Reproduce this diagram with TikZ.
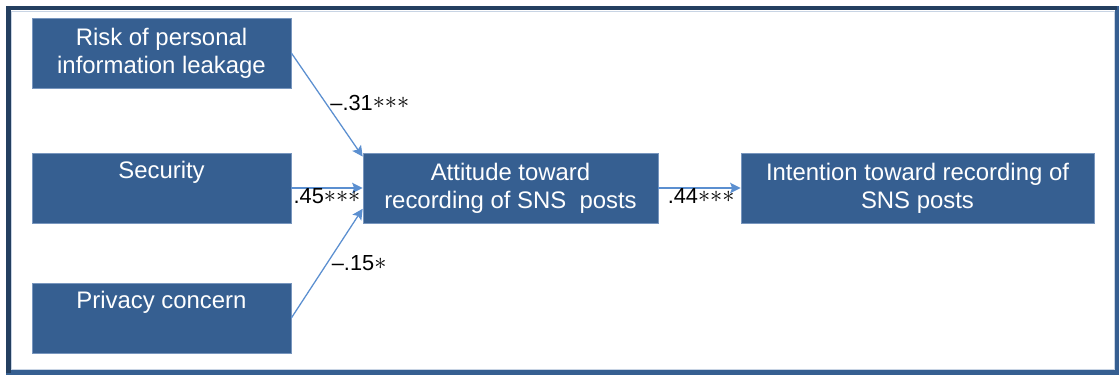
\documentclass[tikz,border=0pt]{standalone}
\usepackage{fontspec}
\setmainfont{Liberation Sans}
\usetikzlibrary{arrows.meta}

\definecolor{boxblue}{RGB}{54,95,145}
\definecolor{boxedge}{RGB}{120,150,190}
\definecolor{linkblue}{RGB}{91,143,208}
\definecolor{framedark}{RGB}{36,63,96}
\definecolor{framelight}{RGB}{200,212,228}

\newcommand{\sigstars}[1]{\raisebox{1pt}{\fontsize{16}{16}\selectfont$#1$}}

\tikzset{
  factor/.style={rectangle, fill=boxblue, draw=boxedge, line width=0.5pt,
    text=white, align=center, inner sep=0pt, minimum height=70*0.025cm,
    font=\fontsize{17}{20}\selectfont},
  link/.style={draw=linkblue, line width=0.9pt,
    -{Stealth[length=7.5pt, width=7.5pt, inset=1.5pt]}},
  coef/.style={inner sep=1pt, font=\fontsize{15.5}{17}\selectfont}
}

\begin{document}
\begin{tikzpicture}[x=0.025cm, y=-0.025cm]
      % page and frame
      \useasboundingbox (0,0) rectangle (1120,375);
      \fill[white] (0,0) rectangle (1120,375);
      \draw[boxblue, line width=3pt] (8.5,8) rectangle (1117,372.5);
      \draw[framedark, line width=3pt] (8.5,372.5) -- (8.5,8) -- (1117,8);
      \draw[framelight, line width=0.6pt] (11.5,11) rectangle (1114,369.5);

      % predictors
      \node[factor, minimum width=259*0.025cm] (risk) at (161.5,53) {Risk of personal\\information leakage};
      \node[factor, minimum width=259*0.025cm] (sec) at (161.5,188) {Security\\\strut};
      \node[factor, minimum width=259*0.025cm] (priv) at (161.5,318) {Privacy concern\\\strut};

      % mediator and outcome
      \node[factor, minimum width=295*0.025cm] (att) at (510.5,188) {Attitude toward\\recording of SNS\ \ posts};
      \node[factor, minimum width=353*0.025cm] (int) at (917.5,188) {Intention toward recording of\\SNS posts};

      % paths
      \draw[link] (risk.east) -- (att.168) node[coef, pos=0.48, anchor=west, xshift=2pt] {–.31\sigstars{{\ast}{\ast}{\ast}}};
      \draw[link] (sec.east) -- (att.west) node[coef, pos=0.5, anchor=north, yshift=1pt] {.45\sigstars{{\ast}{\ast}{\ast}}};
      \draw[link] (priv.east) -- (att.188) node[coef, pos=0.5, anchor=west, xshift=2pt] {–.15\sigstars{{\ast}}};
      \draw[link] (att.east) -- (int.west) node[coef, pos=0.52, anchor=north, yshift=1pt] {.44\sigstars{{\ast}{\ast}{\ast}}};
\end{tikzpicture}
\end{document}
